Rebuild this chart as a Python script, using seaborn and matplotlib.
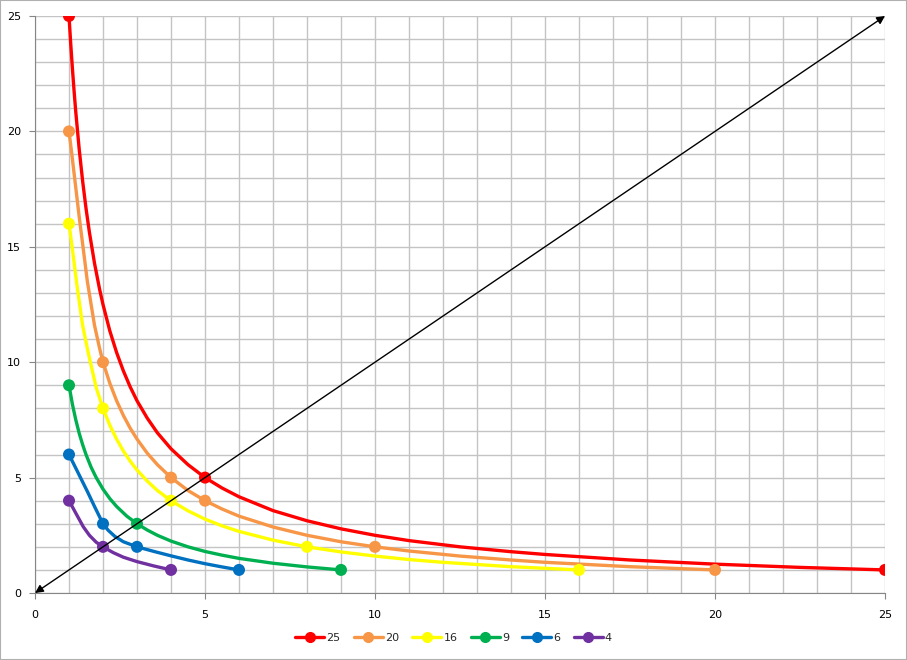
import numpy as np
import pandas as pd
import seaborn as sns
import matplotlib.pyplot as plt
from matplotlib.lines import Line2D
from matplotlib.patches import Rectangle

sns.set_style("white")

# Series names and colours
names = ["25", "20", "16", "9", "6", "4"]
colors = ["#FF0000", "#F79646", "#FFFF00", "#00B050", "#0070C0", "#7030A0"]

# Marked points of each series
mark_x = {
    "25": [1, 5, 25],
    "20": [1, 2, 4, 5, 10, 20],
    "16": [1, 2, 4, 8, 16],
    "9": [1, 3, 9],
    "6": [1, 2, 3, 6],
    "4": [1, 2, 4],
}
mark_y = {
    "25": [25, 5, 1],
    "20": [20, 10, 5, 4, 2, 1],
    "16": [16, 8, 4, 2, 1],
    "9": [9, 3, 1],
    "6": [6, 3, 2, 1],
    "4": [4, 2, 1],
}

# Smoothed curves
curve_x = {
    "25": [1, 1.05, 1.1, 1.15, 1.2, 1.3, 1.4, 1.5, 1.6, 1.75, 1.9, 2, 2.2, 2.4, 2.6, 2.8, 3, 3.3,
           3.6, 4, 4.5, 5, 5.5, 6, 7, 8, 9, 10, 11, 12.5, 14, 15, 17.5, 20, 22.5, 25],
    "20": [1, 1.08, 1.3, 1.54, 1.75, 1.9, 2, 2.2, 2.4, 2.6, 2.8, 3, 3.3,
           3.6, 4, 4.5, 5, 5.5, 6, 7, 8, 9, 10, 11, 12.5, 14, 15, 17.5, 20],
    "16": [1, 1.1, 1.24, 1.4, 1.57, 1.8, 2, 2.2, 2.4, 2.6, 2.8, 3, 3.3,
           3.6, 4, 4.5, 5, 5.5, 6, 7, 8, 9, 10, 11, 12, 14, 16],
    "9": [1, 1.1, 1.2, 1.3, 1.4, 1.5, 1.65, 1.8, 2, 2.2, 2.4, 2.7, 3, 3.3, 3.6, 4, 4.5, 5,
          5.5, 6, 7, 8, 9],
    "6": [1, 1.27, 1.54, 1.75, 1.9, 2, 2.15, 2.35, 2.6, 3, 3.5, 4, 4.5, 5, 5.5, 6],
    "4": [1, 1.23, 1.42, 1.6, 1.8, 2, 2.3, 2.6, 3, 3.5, 4],
}
curve_y = {
    "25": [25, 23.81, 22.73, 21.74, 20.83, 19.23, 17.86, 16.67, 15.63, 14.29, 13.16, 12.5, 11.36,
           10.42, 9.62, 8.93, 8.33, 7.58, 6.94, 6.25, 5.56, 5.0, 4.55, 4.17, 3.57, 3.13, 2.78,
           2.5, 2.27, 2.0, 1.79, 1.67, 1.43, 1.25, 1.11, 1.0],
    "20": [20, 19.05, 16.3, 13.5, 11.6, 10.6, 10.0, 9.09,
           8.33, 7.69, 7.14, 6.67, 6.06, 5.56, 5.0, 4.44, 4.0, 3.64, 3.33, 2.86, 2.5, 2.22,
           2.0, 1.82, 1.6, 1.43, 1.33, 1.14, 1.0],
    "16": [16, 14.9, 13.27, 11.6, 10.38, 8.9, 8.0, 7.27,
           6.67, 6.15, 5.71, 5.33, 4.85, 4.44, 4.0, 3.56, 3.2, 2.91, 2.67, 2.29, 2.0, 1.78,
           1.6, 1.45, 1.33, 1.14, 1.0],
    "9": [9, 8.18, 7.5, 6.92, 6.43, 6.0, 5.45, 5.0, 4.5, 4.09, 3.75, 3.33, 3.0, 2.73, 2.5,
          2.25, 2.0, 1.8, 1.64, 1.5, 1.29, 1.13, 1.0],
    "6": [6, 5.2, 4.4, 3.75, 3.3, 3.0, 2.72, 2.45, 2.22, 2.0, 1.8, 1.61, 1.43, 1.27, 1.13, 1.0],
    "4": [4, 3.38, 2.87, 2.5, 2.2, 2.0, 1.75, 1.55, 1.36, 1.17, 1.0],
}

# Diagonal arrow end points
arrow_x = [0, 25]
arrow_y = [0, 25]

curves = pd.concat(
    [pd.DataFrame({"x": curve_x[n], "y": curve_y[n], "series": n}) for n in names],
    ignore_index=True,
)
marks = pd.concat(
    [pd.DataFrame({"x": mark_x[n], "y": mark_y[n], "series": n}) for n in names],
    ignore_index=True,
)
palette = dict(zip(names, colors))

fig = plt.figure(figsize=(9.07, 6.6), dpi=100)
ax = fig.add_axes([35 / 907, 67 / 660, 850 / 907, 577 / 660])

sns.lineplot(data=curves, x="x", y="y", hue="series", palette=palette,
             sort=False, estimator=None, linewidth=2.4, legend=False, ax=ax,
             zorder=3)
sns.scatterplot(data=marks, x="x", y="y", hue="series", palette=palette,
                s=75, linewidth=0, legend=False, ax=ax, zorder=4)

ax.annotate("", xy=(arrow_x[1], arrow_y[1]), xytext=(arrow_x[0], arrow_y[0]),
            arrowprops=dict(arrowstyle="<|-|>", color="black", lw=1,
                            mutation_scale=12, shrinkA=0, shrinkB=0),
            zorder=5)

ax.set_xlim(0, 25)
ax.set_ylim(0, 25)
ax.set_xticks(range(0, 26, 5))
ax.set_yticks(range(0, 26, 5))
ax.set_xticks(range(0, 26), minor=True)
ax.set_yticks(range(0, 26), minor=True)
ax.grid(True, which="both", color="#c4c4c4", linewidth=1)
ax.set_axisbelow(True)
ax.set_xlabel("")
ax.set_ylabel("")
for s in ["top", "right"]:
    ax.spines[s].set_visible(False)
for s in ["left", "bottom"]:
    ax.spines[s].set_color("#868686")
ax.tick_params(axis="both", which="major", labelsize=8, length=4,
               color="#868686", labelcolor="black", direction="out")
ax.tick_params(axis="x", which="major", pad=8)
ax.tick_params(axis="y", which="major", pad=6)
ax.tick_params(which="minor", length=0)
ax.tick_params(bottom=True, left=True)

handles = [Line2D([0], [0], color=c, lw=2.4, marker="o", markersize=7)
           for c in colors]
fig.legend(handles, names, loc="center", bbox_to_anchor=(0.5, 22 / 660),
           ncol=6, frameon=False, fontsize=8, handlelength=2.6,
           handletextpad=0.2, columnspacing=1.2)

fig.add_artist(Rectangle((0, 0), 1, 1, transform=fig.transFigure,
                         fill=False, edgecolor="#b0b0b0", lw=1.5))

fig.savefig("out.png", dpi=100)
